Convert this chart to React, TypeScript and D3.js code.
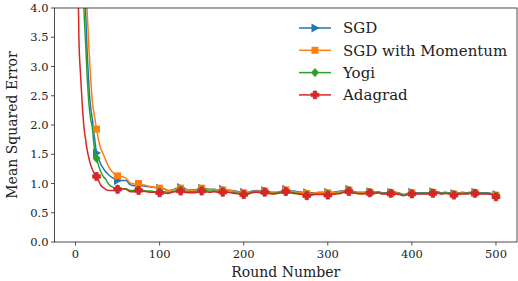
import * as d3 from "d3";

const W = 518;
const H = 281;
const M = { top: 8, right: 1, bottom: 39, left: 54.5 };

// rounds
const ROUNDS = [
  0, 2, 4, 6, 8, 10, 12, 14, 16, 18, 20, 22, 25, 28, 30, 33, 36, 40, 45, 50,
  55, 60, 65, 70, 75, 80, 85, 90, 95, 100, 105, 110, 115, 120, 125, 130, 135, 140, 145, 150,
  155, 160, 165, 170, 175, 180, 185, 190, 195, 200, 205, 210, 215, 220, 225, 230, 235, 240, 245, 250,
  255, 260, 265, 270, 275, 280, 285, 290, 295, 300, 305, 310, 315, 320, 325, 330, 335, 340, 345, 350,
  355, 360, 365, 370, 375, 380, 385, 390, 395, 400, 405, 410, 415, 420, 425, 430, 435, 440, 445, 450,
  455, 460, 465, 470, 475, 480, 485, 490, 495, 500,
];

const SGD = [
  16, 12, 9.5, 7.6, 6.0, 4.6, 3.95, 3.2, 2.65, 2.3, 2.1, 1.85, 1.52, 1.4, 1.33, 1.26, 1.2, 1.14, 1.09, 1.05,
  1.05, 1.05, 0.98, 0.96, 0.97, 0.96, 0.95, 0.94, 0.93, 0.92, 0.91, 0.88, 0.89, 0.92, 0.93, 0.91, 0.89, 0.89, 0.9, 0.92,
  0.91, 0.9, 0.9, 0.89, 0.9, 0.89, 0.88, 0.87, 0.86, 0.85, 0.85, 0.87, 0.88, 0.87, 0.88, 0.86, 0.85, 0.85, 0.87, 0.9,
  0.88, 0.87, 0.86, 0.85, 0.84, 0.84, 0.84, 0.85, 0.85, 0.85, 0.85, 0.86, 0.87, 0.88, 0.9, 0.87, 0.85, 0.85, 0.85, 0.86,
  0.85, 0.86, 0.84, 0.84, 0.85, 0.85, 0.84, 0.81, 0.83, 0.85, 0.84, 0.84, 0.84, 0.84, 0.86, 0.86, 0.84, 0.85, 0.84, 0.83,
  0.84, 0.85, 0.84, 0.85, 0.85, 0.84, 0.84, 0.84, 0.83, 0.81,
];

const MOMENTUM = [
  18, 14, 11, 8.8, 7.0, 5.5, 4.5, 3.9, 3.3, 2.8, 2.4, 2.2, 1.93, 1.7, 1.6, 1.5, 1.4, 1.27, 1.18, 1.13,
  1.12, 1.09, 1.01, 0.99, 1.0, 0.98, 0.96, 0.95, 0.93, 0.92, 0.91, 0.88, 0.89, 0.91, 0.92, 0.9, 0.89, 0.88, 0.9, 0.92,
  0.9, 0.9, 0.89, 0.89, 0.89, 0.89, 0.88, 0.86, 0.85, 0.84, 0.84, 0.86, 0.87, 0.86, 0.87, 0.85, 0.84, 0.84, 0.86, 0.89,
  0.87, 0.86, 0.85, 0.84, 0.83, 0.83, 0.84, 0.84, 0.84, 0.84, 0.84, 0.85, 0.86, 0.87, 0.89, 0.86, 0.84, 0.84, 0.84, 0.85,
  0.84, 0.85, 0.83, 0.83, 0.84, 0.84, 0.83, 0.81, 0.82, 0.84, 0.83, 0.83, 0.83, 0.83, 0.85, 0.85, 0.83, 0.84, 0.83, 0.82,
  0.83, 0.84, 0.83, 0.84, 0.84, 0.83, 0.83, 0.83, 0.82, 0.8,
];

const YOGI = [
  14, 11, 8.6, 6.8, 5.2, 4.0, 3.4, 2.8, 2.35, 2.1, 1.95, 1.65, 1.43, 1.28, 1.2, 1.12, 1.07, 0.98, 0.93, 0.91,
  0.91, 0.91, 0.88, 0.88, 0.89, 0.88, 0.87, 0.87, 0.86, 0.86, 0.86, 0.85, 0.86, 0.88, 0.89, 0.87, 0.86, 0.86, 0.87, 0.89,
  0.88, 0.87, 0.87, 0.86, 0.87, 0.86, 0.85, 0.84, 0.83, 0.82, 0.83, 0.85, 0.86, 0.85, 0.86, 0.84, 0.83, 0.84, 0.85, 0.87,
  0.85, 0.84, 0.83, 0.82, 0.81, 0.81, 0.82, 0.82, 0.82, 0.82, 0.82, 0.83, 0.84, 0.86, 0.88, 0.85, 0.83, 0.83, 0.83, 0.85,
  0.84, 0.84, 0.83, 0.83, 0.84, 0.83, 0.82, 0.8, 0.82, 0.83, 0.83, 0.83, 0.83, 0.83, 0.84, 0.85, 0.83, 0.84, 0.83, 0.81,
  0.82, 0.83, 0.83, 0.84, 0.84, 0.83, 0.83, 0.83, 0.82, 0.79,
];

const ADAGRAD = [
  9, 5.5, 3.5, 2.85, 2.35, 1.97, 1.75, 1.56, 1.43, 1.32, 1.24, 1.18, 1.12, 1.03, 0.97, 0.93, 0.9, 0.88, 0.88, 0.9,
  0.91, 0.9, 0.86, 0.86, 0.88, 0.87, 0.86, 0.85, 0.85, 0.84, 0.84, 0.83, 0.85, 0.86, 0.87, 0.85, 0.84, 0.84, 0.85, 0.87,
  0.86, 0.85, 0.86, 0.85, 0.85, 0.85, 0.84, 0.83, 0.82, 0.81, 0.82, 0.84, 0.85, 0.84, 0.85, 0.83, 0.82, 0.83, 0.84, 0.86,
  0.84, 0.83, 0.82, 0.81, 0.79, 0.8, 0.81, 0.81, 0.81, 0.8, 0.81, 0.82, 0.83, 0.85, 0.86, 0.84, 0.83, 0.82, 0.83, 0.84,
  0.83, 0.84, 0.82, 0.82, 0.83, 0.82, 0.81, 0.79, 0.81, 0.82, 0.82, 0.82, 0.82, 0.82, 0.83, 0.84, 0.82, 0.83, 0.82, 0.8,
  0.81, 0.82, 0.82, 0.83, 0.83, 0.82, 0.82, 0.82, 0.81, 0.77,
];

const SERIES = [
  { name: "SGD", values: SGD, color: "#1f77b4", marker: "tri" },
  { name: "SGD with Momentum", values: MOMENTUM, color: "#ff7f0e", marker: "square" },
  { name: "Yogi", values: YOGI, color: "#2ca02c", marker: "diamond" },
  { name: "Adagrad", values: ADAGRAD, color: "#d62728", marker: "plus" },
];

const X_TICKS = [0, 100, 200, 300, 400, 500];
const Y_TICKS = [0, 0.5, 1, 1.5, 2, 2.5, 3, 3.5, 4];
const FONT = "DejaVu Serif";

function Marker({ kind, x, y, color }: { kind: string; x: number; y: number; color: string }) {
  if (kind === "tri") {
    return <path d={`M${x + 4.5},${y} L${x - 3.5},${y - 4.5} L${x - 3.5},${y + 4.5} Z`} fill={color} />;
  }
  if (kind === "square") {
    return <rect x={x - 3.5} y={y - 3.5} width={7} height={7} fill={color} />;
  }
  if (kind === "diamond") {
    return <path d={`M${x},${y - 4.6} L${x + 4},${y} L${x},${y + 4.6} L${x - 4},${y} Z`} fill={color} />;
  }
  const a = 1.7;
  const b = 3.9;
  return (
    <path
      d={`M${x - a},${y - b} H${x + a} V${y - a} H${x + b} V${y + a} H${x + a} V${y + b} H${x - a} V${y + a} H${x - b} V${y - a} H${x - a} Z`}
      fill={color}
      stroke={color}
      strokeWidth={0.8}
      strokeLinejoin="round"
    />
  );
}

export default function App() {
  const innerW = W - M.left - M.right;
  const innerH = H - M.top - M.bottom;
  const x = d3.scaleLinear().domain([-25, 525]).range([0, innerW]);
  const y = d3.scaleLinear().domain([0, 4]).range([innerH, 0]);

  const line = d3
    .line<number>()
    .x((_, i) => x(ROUNDS[i]))
    .y((d) => y(d))
    .curve(d3.curveMonotoneX);

  return (
    <svg
      width={W}
      height={H}
      style={{ position: "absolute", left: 0, top: 0, background: "#fff" }}
      fontFamily={FONT}
    >
      <defs>
        <clipPath id="plot">
          <rect x={0} y={0} width={innerW} height={innerH} />
        </clipPath>
      </defs>
      <g transform={`translate(${M.left},${M.top})`}>
        <g clipPath="url(#plot)">
          {SERIES.map((s) => (
            <g key={s.name}>
              <path d={line(s.values) ?? ""} fill="none" stroke={s.color} strokeWidth={1.5} />
              {ROUNDS.map((r, i) =>
                r % 25 === 0 && r > 0 ? (
                  <Marker key={r} kind={s.marker} x={x(r)} y={y(s.values[i])} color={s.color} />
                ) : null,
              )}
            </g>
          ))}
        </g>

        {/* spines */}
        <rect x={0} y={0} width={innerW} height={innerH} fill="none" stroke="#222" strokeWidth={0.8} />

        {/* y axis */}
        {Y_TICKS.map((t) => (
          <g key={t} transform={`translate(0,${y(t)})`}>
            <line x1={-3.5} x2={0} stroke="#222" strokeWidth={0.8} />
            <text x={-6} dy="0.35em" textAnchor="end" fontSize={11.5} fill="#222">
              {t.toFixed(1)}
            </text>
          </g>
        ))}
        {/* x axis */}
        {X_TICKS.map((t) => (
          <g key={t} transform={`translate(${x(t)},${innerH})`}>
            <line y1={0} y2={3.5} stroke="#222" strokeWidth={0.8} />
            <text y={16} textAnchor="middle" fontSize={11.5} fill="#222">
              {t}
            </text>
          </g>
        ))}

        <text
          x={innerW / 2}
          y={innerH + 35}
          textAnchor="middle"
          fontSize={14}
          fill="#222"
        >
          Round Number
        </text>
        <text
          transform={`translate(${-38},${innerH / 2}) rotate(-90)`}
          textAnchor="middle"
          fontSize={14}
          fill="#222"
        >
          Mean Squared Error
        </text>

        {/* legend */}
        {SERIES.map((s, i) => {
          const ly = 20 + i * 22.3;
          return (
            <g key={s.name} transform={`translate(244.5,${ly})`}>
              <line x1={0} x2={32} stroke={s.color} strokeWidth={1.5} />
              <Marker kind={s.marker} x={16} y={0} color={s.color} />
              <text x={44} dy="0.35em" fontSize={15} fill="#222">
                {s.name}
              </text>
            </g>
          );
        })}
      </g>
    </svg>
  );
}
